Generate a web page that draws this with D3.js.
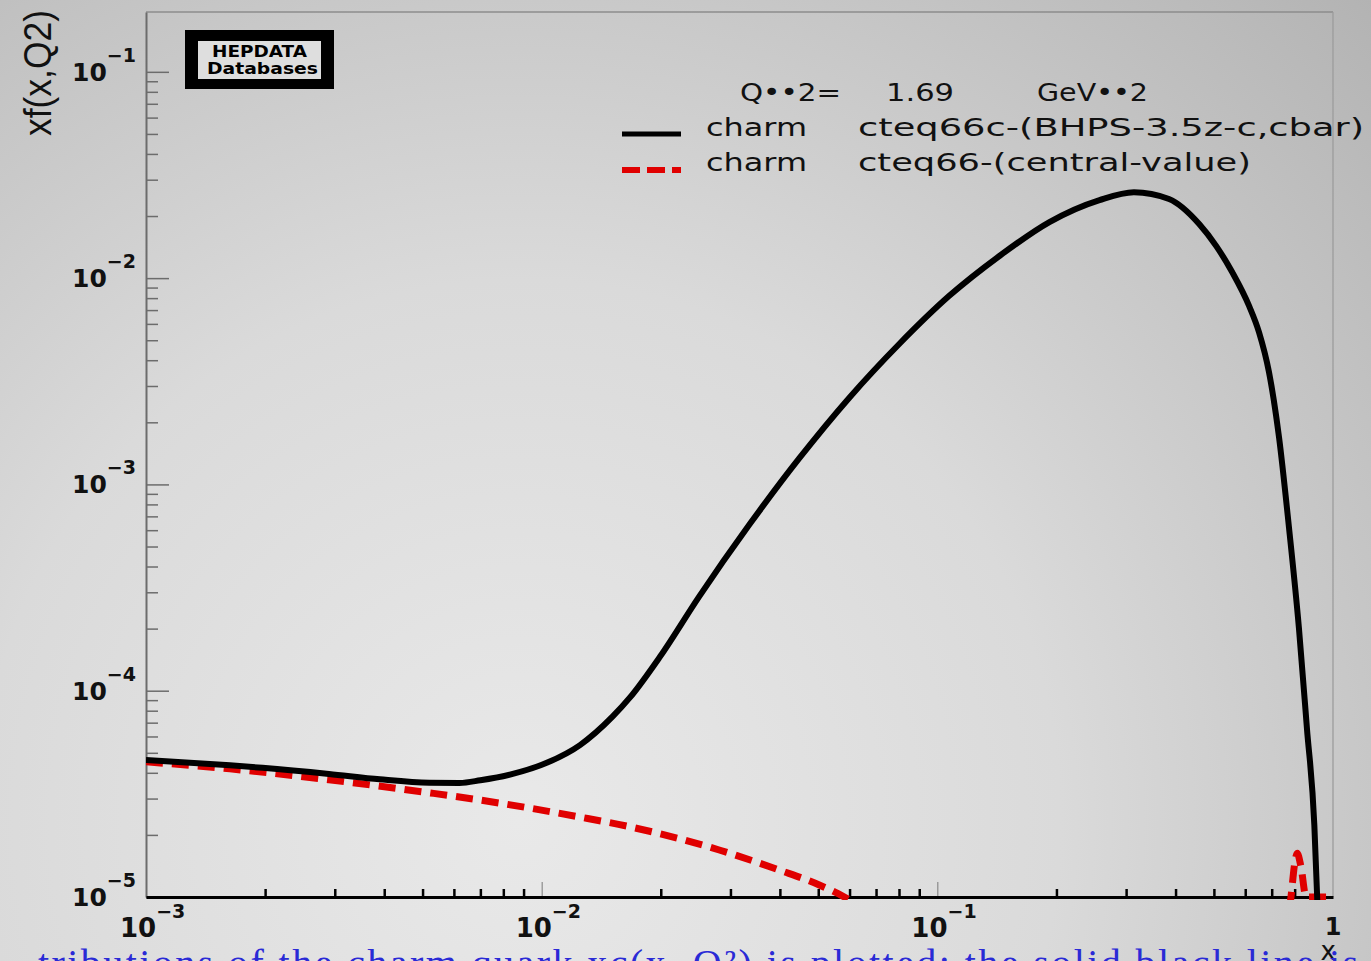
<!DOCTYPE html>
<html>
<head>
<meta charset="utf-8">
<script src="https://cdn.jsdelivr.net/npm/d3@7"></script>
<style>
  html, body { margin: 0; padding: 0; overflow: hidden; background: #d4d4d4; }
  svg { display: block; }
</style>
</head>
<body>
<svg id="chart" width="1371" height="961"></svg>
<script>
// ---- data: x f(x, Q^2) for charm at Q^2 = 1.69 GeV^2 ----
// cteq66c (BHPS, intrinsic charm) – solid black
const bhpsX = [0.001, 0.00163, 0.00197, 0.0029, 0.0039, 0.0052, 0.0062, 0.0070, 0.00845, 0.0103,
               0.0125, 0.0151, 0.0167, 0.0199, 0.025, 0.0335, 0.0448, 0.060, 0.080, 0.107,
               0.1435, 0.192, 0.257, 0.314, 0.385, 0.459, 0.507, 0.556, 0.614, 0.650,
               0.689, 0.7305, 0.774, 0.820, 0.859, 0.897, 0.912, 0.925];
const bhpsY = [4.62e-5, 4.35e-5, 4.23e-5, 3.95e-5, 3.72e-5, 3.58e-5, 3.57e-5, 3.68e-5, 3.95e-5, 4.47e-5,
               5.45e-5, 7.48e-5, 9.25e-5, 1.46e-4, 2.86e-4, 6.39e-4, 1.34e-3, 2.64e-3, 4.78e-3, 8.18e-3,
               1.28e-2, 1.87e-2, 2.39e-2, 2.61e-2, 2.42e-2, 1.83e-2, 1.43e-2, 1.07e-2, 7.31e-3, 5.47e-3,
               3.50e-3, 1.69e-3, 6.18e-4, 2.02e-4, 6.61e-5, 2.24e-5, 1.0e-5, 4.0e-6];

// cteq66 central value – dashed red
const centralX = [0.001, 0.00163, 0.0029, 0.0052, 0.0070, 0.0093, 0.0125, 0.0167, 0.0281, 0.0399,
                  0.0503, 0.0582, 0.066, 0.1, 0.3, 0.6, 0.77, 0.783, 0.80, 0.812,
                  0.83, 0.855, 0.9, 1.0];
const centralY = [4.52e-5, 4.18e-5, 3.70e-5, 3.20e-5, 2.95e-5, 2.70e-5, 2.44e-5, 2.19e-5, 1.69e-5, 1.35e-5,
                  1.144e-5, 1.0e-5, 8.6e-6, 5e-6, 3e-6, 5e-6, 8e-6, 1.0e-5, 1.45e-5, 1.63e-5,
                  1.4e-5, 1.0e-5, 1.0e-5, 1.0e-5];

// axis decades and their exponent labels
const xDecades = [1e-3, 1e-2, 1e-1];
const xExponents = ["\u22123", "\u22122", "\u22121"];
const yDecades = [1e-5, 1e-4, 1e-3, 1e-2, 1e-1];
const yExponents = ["\u22125", "\u22124", "\u22123", "\u22122", "\u22121"];

// legend text
const headerParts = ["Q\u2022\u20222=", "1.69", "GeV\u2022\u20222"];
const seriesNames = ["charm", "charm"];
const seriesSets = ["cteq66c-(BHPS-3.5z-c,cbar)", "cteq66-(central-value)"];

const W = 1371, H = 961;
const svg = d3.select("#chart");
const defs = svg.append("defs");

// slide background: soft radial grey
const grad = defs.append("radialGradient").attr("id", "slideBg")
  .attr("gradientUnits", "userSpaceOnUse")
  .attr("cx", 520).attr("cy", 820).attr("r", 1200);
grad.append("stop").attr("offset", 0).attr("stop-color", "#e9e9e9");
grad.append("stop").attr("offset", 0.45).attr("stop-color", "#dadada");
grad.append("stop").attr("offset", 1).attr("stop-color", "#b2b2b2");
svg.append("rect").attr("width", W).attr("height", H).attr("fill", "url(#slideBg)");

const m = { left: 146, right: 1333, top: 12, bottom: 897 };
const x = d3.scaleLog().domain([1e-3, 1]).range([m.left, m.right]);
const y = d3.scaleLog().domain([1e-5, 0.195]).range([m.bottom, m.top]);

// frame (top and right)
svg.append("line").attr("x1", m.left).attr("x2", m.right).attr("y1", m.top).attr("y2", m.top)
  .attr("stroke", "#8c8c8c").attr("stroke-width", 1.3);
svg.append("line").attr("x1", m.right).attr("x2", m.right).attr("y1", m.top).attr("y2", m.bottom)
  .attr("stroke", "#9c9c9c").attr("stroke-width", 1.3);

// minor tick positions
const xMinor = [];
xDecades.forEach(d => { for (let k = 2; k <= 9; k++) xMinor.push(d * k); });
const yMinor = [];
yDecades.forEach(d => { for (let k = 2; k <= 9; k++) if (d * k <= y.domain()[1]) yMinor.push(d * k); });

// left axis
const gy = svg.append("g").attr("transform", `translate(${m.left},0)`);
gy.call(d3.axisLeft(y).tickValues(yMinor).tickSize(-12).tickSizeOuter(0).tickFormat(""));
gy.select(".domain").attr("stroke", "#6c6c6c").attr("stroke-width", 2);
gy.selectAll(".tick line").attr("stroke", "#6c6c6c").attr("stroke-width", 1.5);
const gyMaj = svg.append("g").attr("transform", `translate(${m.left},0)`);
gyMaj.call(d3.axisLeft(y).tickValues(yDecades).tickSize(-23).tickSizeOuter(0).tickFormat(""));
gyMaj.select(".domain").remove();
gyMaj.selectAll(".tick line").attr("stroke", "#6c6c6c").attr("stroke-width", 1.5);

// bottom axis
const gxMaj = svg.append("g").attr("transform", `translate(0,${m.bottom})`);
gxMaj.call(d3.axisBottom(x).tickValues(xDecades.slice(1)).tickSize(-15).tickSizeOuter(0).tickFormat(""));
gxMaj.select(".domain").remove();
gxMaj.selectAll(".tick line").attr("stroke", "#7a7a7a").attr("stroke-width", 1);
const gx = svg.append("g").attr("transform", `translate(0,${m.bottom})`);
gx.call(d3.axisBottom(x).tickValues(xMinor).tickSize(-8).tickSizeOuter(0).tickFormat(""));
gx.select(".domain").attr("stroke", "#000").attr("stroke-width", 3);
gx.selectAll(".tick line").attr("stroke", "#000").attr("stroke-width", 2.5);

// y tick labels 10^n
const labelFont = "'DejaVu Sans', sans-serif";
yDecades.forEach((d, i) => {
  const t = svg.append("text").attr("x", 72).attr("y", y(d) + 9)
    .attr("font-family", labelFont).attr("font-weight", "bold").attr("font-size", 25).attr("fill", "#111");
  t.append("tspan").text("10");
  t.append("tspan").attr("dy", -19).attr("font-size", 19).text(yExponents[i]);
});

// x tick labels 10^n and 1
xDecades.forEach((d, i) => {
  const t = svg.append("text").attr("x", x(d) - 26).attr("y", 937)
    .attr("font-family", labelFont).attr("font-weight", "bold").attr("font-size", 26).attr("fill", "#111");
  t.append("tspan").text("10");
  t.append("tspan").attr("dy", -19).attr("font-size", 19).text(xExponents[i]);
});
svg.append("text").attr("x", x(1)).attr("y", 935).attr("text-anchor", "middle")
  .attr("font-family", labelFont).attr("font-weight", "bold").attr("font-size", 24).attr("fill", "#111").text("1");

// axis titles
svg.append("text").attr("x", 1336).attr("y", 960).attr("text-anchor", "end")
  .attr("font-family", labelFont).attr("font-size", 26).attr("fill", "#111").text("x");
svg.append("text").attr("transform", "translate(51,10) rotate(-90)").attr("text-anchor", "end")
  .attr("font-family", "'Liberation Sans', sans-serif").attr("font-size", 38).attr("fill", "#111")
  .attr("textLength", 126).attr("lengthAdjust", "spacingAndGlyphs").text("xf(x,Q2)");

// HEPDATA stamp
svg.append("rect").attr("x", 185).attr("y", 30).attr("width", 149).attr("height", 59).attr("fill", "#000");
svg.append("rect").attr("x", 198).attr("y", 41).attr("width", 123).attr("height", 38).attr("fill", "#dedede");
svg.append("text").attr("x", 212).attr("y", 57).attr("font-family", labelFont).attr("font-weight", "bold")
  .attr("font-size", 15).attr("textLength", 95).attr("lengthAdjust", "spacingAndGlyphs").attr("fill", "#000").text("HEPDATA");
svg.append("text").attr("x", 207).attr("y", 74).attr("font-family", labelFont).attr("font-weight", "bold")
  .attr("font-size", 15).attr("textLength", 111).attr("lengthAdjust", "spacingAndGlyphs").attr("fill", "#000").text("Databases");

// curves
defs.append("clipPath").attr("id", "plotClip").append("rect")
  .attr("x", m.left).attr("y", m.top).attr("width", m.right - m.left).attr("height", m.bottom - m.top + 3);
const line = d3.line().x(d => x(d[0])).y(d => y(d[1])).curve(d3.curveMonotoneX);
const plot = svg.append("g").attr("clip-path", "url(#plotClip)");
plot.append("path").datum(d3.zip(centralX, centralY)).attr("d", line)
  .attr("fill", "none").attr("stroke", "#e00000").attr("stroke-width", 7).attr("stroke-dasharray", "17,9");
plot.append("path").datum(d3.zip(bhpsX, bhpsY)).attr("d", line)
  .attr("fill", "none").attr("stroke", "#000").attr("stroke-width", 6).attr("stroke-linejoin", "round");

// legend
const legFont = "'DejaVu Sans', sans-serif";
const header = [[740, 101], [886, 101], [1037, 101]];
const headerW = [101, 68, 111];
headerParts.forEach((s, i) => {
  svg.append("text").attr("x", header[i][0]).attr("y", header[i][1]).attr("font-family", legFont)
    .attr("font-size", 24).attr("fill", "#111").attr("textLength", headerW[i]).attr("lengthAdjust", "spacingAndGlyphs").text(s);
});
const rowY = [135, 170];
const setW = [506, 393];
svg.append("line").attr("x1", 622).attr("x2", 681).attr("y1", rowY[0] - 1).attr("y2", rowY[0] - 1)
  .attr("stroke", "#000").attr("stroke-width", 5);
svg.append("line").attr("x1", 622).attr("x2", 681).attr("y1", rowY[1]).attr("y2", rowY[1])
  .attr("stroke", "#e00000").attr("stroke-width", 6).attr("stroke-dasharray", "18,7");
seriesNames.forEach((s, i) => {
  svg.append("text").attr("x", 706).attr("y", rowY[i] + 1).attr("font-family", legFont).attr("font-size", 24)
    .attr("fill", "#111").attr("textLength", 101).attr("lengthAdjust", "spacingAndGlyphs").text(s);
  svg.append("text").attr("x", 858).attr("y", rowY[i] + 1).attr("font-family", legFont).attr("font-size", 24)
    .attr("fill", "#111").attr("textLength", setW[i]).attr("lengthAdjust", "spacingAndGlyphs").text(seriesSets[i]);
});

// caption line of the slide, running off the bottom edge
svg.append("text").attr("x", 38).attr("y", 977).attr("font-family", "'Liberation Serif', serif")
  .attr("font-size", 40).attr("fill", "#2a2ad6")
  .attr("textLength", 1320).attr("lengthAdjust", "spacing")
  .text("tributions of the charm quark xc(x, Q\u00b2) is plotted: the solid black line is");
</script>
</body>
</html>
